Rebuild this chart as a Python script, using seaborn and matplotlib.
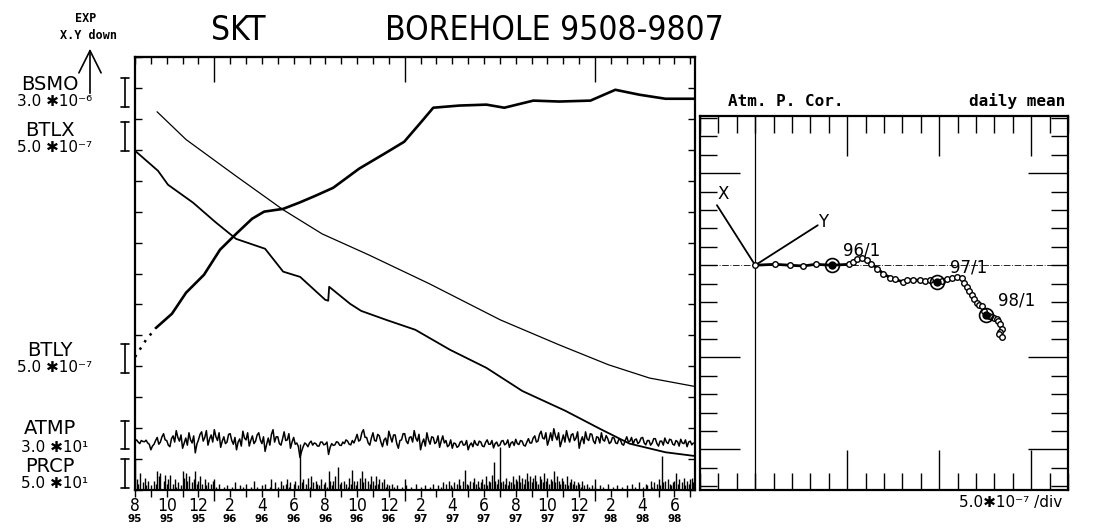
import numpy as np
import pandas as pd
import matplotlib
matplotlib.use("Agg")
import matplotlib.pyplot as plt
from matplotlib.lines import Line2D
from matplotlib.patches import FancyArrowPatch
from matplotlib.ticker import FixedLocator
import seaborn as sns

# ---------------- left panel: x = months since 1995-08-01, y = chart divisions ----------------
BSMO_MONTH = [1.39, 3.22, 6.37, 9.34, 11.80, 14.70, 18.55, 23.03, 26.75, 29.84, 32.43, 35.27]
BSMO_DIV = [12.23, 11.33, 10.15, 9.06, 8.28, 7.61, 6.67, 5.50, 4.69, 4.05, 3.62, 3.35]

BTLX_MONTH = [0.00, 1.45, 2.08, 3.66, 5.05, 6.37, 8.20, 9.34, 10.41, 11.99, 12.18, 12.24,
              13.56, 14.26, 15.84, 17.67, 19.87, 22.15, 24.42, 27.13, 29.34, 31.17, 33.44, 35.27]
BTLX_DIV = [10.97, 10.32, 9.87, 9.29, 8.67, 8.12, 7.80, 7.06, 6.89, 6.15, 6.12, 6.57,
            6.02, 5.79, 5.50, 5.18, 4.53, 3.95, 3.20, 2.56, 1.97, 1.50, 1.22, 1.10]

BTLY_MONTH = [0.00, 0.69, 1.32, 2.33, 3.22, 4.35, 5.36, 6.37, 7.38, 8.14, 9.34, 10.35, 11.36,
              12.49, 14.13, 15.84, 16.97, 18.11, 18.80, 20.44, 22.15, 23.28, 25.11, 26.75,
              28.71, 30.28, 31.80, 33.44, 35.27]
BTLY_DIV = [4.30, 4.85, 5.24, 5.70, 6.38, 6.96, 7.77, 8.28, 8.77, 9.00, 9.09, 9.29, 9.51,
            9.77, 10.39, 10.91, 11.26, 11.94, 12.36, 12.43, 12.46, 12.36, 12.59, 12.56,
            12.59, 12.94, 12.78, 12.65, 12.65]

DAILY_STEP = 0.1  # months between ATMP / PRCP samples
ATMP_DIV = [
    1.58, 1.62, 1.55, 1.50, 1.60, 1.57, 1.56, 1.61, 1.52, 1.48, 1.30, 1.42, 1.48, 1.60,
    1.70, 1.48, 1.55, 1.72, 1.82, 1.62, 1.60, 1.45, 1.40, 1.66,
    1.75, 1.55, 1.92, 1.70, 1.58, 1.78, 1.35, 1.52, 1.68, 1.45,
    1.85, 1.62, 1.52, 1.75, 1.20, 1.48, 1.62, 1.80, 1.88, 1.58,
    1.70, 1.92, 1.45, 1.65, 1.78, 1.55, 1.95, 1.72, 1.60, 1.85,
    1.38, 1.58, 1.72, 1.50, 1.55, 1.80, 1.82, 1.60, 1.48, 1.70,
    1.30, 1.55, 1.65, 1.42, 1.90, 1.68, 1.62, 1.85, 1.42, 1.60,
    1.75, 1.50, 1.58, 1.78, 1.85, 1.62, 1.50, 1.72, 1.25, 1.48,
    1.68, 1.45, 1.80, 1.95, 1.55, 1.72, 1.72, 1.50, 1.45, 1.65,
    1.88, 1.60, 1.62, 1.82, 1.35, 1.55, 1.70, 1.48, 1.52, 1.40,
    1.05, 1.25, 1.40, 1.52, 1.48, 1.40, 1.52, 1.58, 1.45, 1.52, 1.50, 1.42, 1.42, 1.55, 1.55,
    1.46, 1.48, 1.55,
    1.15, 1.38, 1.50, 1.44, 1.46, 1.56, 1.54, 1.45, 1.44, 1.55, 1.50, 1.62, 1.58, 1.48, 1.46,
    1.60, 1.52, 1.65,
    1.80, 1.58, 1.62, 1.85, 1.95, 1.70, 1.70, 1.52, 1.45, 1.68,
    1.85, 1.60, 1.58, 1.80, 1.75, 1.55, 1.40, 1.62, 1.68, 1.45,
    1.90, 1.72, 1.55, 1.78, 1.78, 1.50, 1.35, 1.60, 1.62, 1.82,
    1.82, 1.58, 1.50, 1.70, 1.72, 1.55, 1.92, 1.68, 1.58, 1.80,
    1.30, 1.52, 1.65, 1.42, 1.85, 1.62, 1.48, 1.72, 1.70, 1.50,
    1.55, 1.75, 1.38, 1.58, 1.75, 1.52, 1.60, 1.40, 1.45, 1.62,
    1.35, 1.52, 1.50, 1.38, 1.42, 1.55, 1.58, 1.45, 1.46, 1.60,
    1.30, 1.45, 1.52, 1.40, 1.60, 1.48, 1.44, 1.58, 1.55, 1.42,
    1.40, 1.54, 1.62, 1.48, 1.48, 1.60, 1.36, 1.50, 1.55, 1.42,
    1.45, 1.58, 1.60, 1.46, 1.50, 1.62, 1.38, 1.52, 1.56, 1.44,
    1.64, 1.50, 1.47, 1.60, 1.58, 1.45, 1.42, 1.55, 1.66, 1.52,
    1.52, 1.68,
    1.75, 1.55, 1.58, 1.80, 1.90, 1.68, 1.65, 1.85, 1.45, 1.62,
    1.85, 1.60, 1.98, 1.75, 1.62, 1.85, 1.40, 1.58, 1.78, 1.55,
    1.92, 1.70, 1.55, 1.78, 1.82, 1.60, 1.68, 1.88, 1.35, 1.58,
    1.72, 1.50, 1.88, 1.65, 1.60, 1.82, 1.80, 1.58, 1.50, 1.72,
    1.70, 1.52, 1.85, 1.62, 1.58, 1.76, 1.66, 1.50,
    1.55, 1.70, 1.68, 1.52, 1.50, 1.64, 1.62, 1.48, 1.45, 1.60,
    1.72, 1.55, 1.58, 1.70, 1.48, 1.62, 1.65, 1.50, 1.55, 1.68,
    1.70, 1.52, 1.46, 1.60, 1.60, 1.45, 1.52, 1.66, 1.66, 1.50,
    1.42, 1.58, 1.58, 1.45, 1.68, 1.55, 1.50, 1.64, 1.62, 1.48,
    1.45, 1.60, 1.56, 1.42, 1.64, 1.52, 1.50, 1.62, 1.40, 1.55,
    1.58, 1.46, 1.52]

PRCP_DIV = [
    1.00, 0.35, 0.20, 0.55, 0.00, 0.25, 0.40, 0.15, 0.30, 0.00,
    0.15, 0.00, 0.30, 0.20, 0.60, 0.45, 0.55, 0.00, 0.30, 0.50,
    0.20, 0.35, 0.50, 0.00, 0.20, 0.35, 0.10, 0.25, 0.00, 0.15,
    0.60, 0.40, 0.55, 0.30, 0.45, 0.00, 0.25, 0.35, 0.60, 0.20,
    0.30, 0.45, 0.20, 0.00, 0.35, 0.15, 0.25, 0.00, 0.20, 0.30,
    0.00, 0.10, 0.00, 0.20, 0.00, 0.00, 0.10, 0.00, 0.15, 0.00,
    0.00, 0.10, 0.00, 0.25, 0.00, 0.00, 0.15, 0.00, 0.10, 0.00,
    0.20, 0.00, 0.00, 0.10, 0.00, 0.30, 0.00, 0.10, 0.00, 0.00,
    0.15, 0.00, 0.20, 0.00, 0.00, 0.10, 0.35, 0.00, 0.25, 0.00,
    0.10, 0.00, 0.30, 0.15, 0.00, 0.20, 0.35, 0.10, 0.25, 0.00,
    0.20, 0.30, 0.00, 0.15, 1.50, 0.25, 0.35, 0.00, 0.20, 0.40,
    0.10, 0.45, 0.25, 0.00, 0.30, 0.20, 0.15, 0.35, 0.00, 0.20,
    0.25, 0.10, 0.60, 0.30, 0.15, 0.30, 0.45, 0.00, 0.75, 0.20,
    0.25, 0.00, 0.30, 0.20, 0.10, 0.40, 0.20, 0.65, 0.30, 0.15,
    0.30, 0.00, 0.40, 0.60, 0.25, 0.40, 0.00, 0.30, 0.20, 0.45,
    0.30, 0.15, 0.45, 0.20, 0.35, 0.00, 0.25, 0.35, 0.10, 0.20,
    0.15, 0.00, 0.20, 0.10, 0.00, 0.15, 0.00, 0.00, 0.10, 0.00,
    0.00, 0.15, 0.00, 0.00, 0.10, 0.00, 0.00, 0.20, 0.00, 0.00,
    0.10, 0.00, 0.00, 0.15, 0.00, 0.00, 0.10, 0.00, 0.20, 0.00,
    0.00, 0.15, 0.00, 0.10, 0.25, 0.00, 0.20, 0.00, 0.30, 0.15,
    0.10, 0.25, 0.00, 0.20, 0.35, 0.15, 0.00, 0.30, 0.65, 0.20,
    0.15, 0.30, 0.00, 0.25, 0.40, 0.20, 0.30, 0.10, 0.25, 0.35,
    0.20, 0.45, 0.15, 0.30, 0.25, 0.50, 0.90, 0.30, 0.20, 0.35,
    1.40, 0.25, 0.30, 0.20, 0.40, 0.15, 0.30, 0.25, 0.45, 0.20,
    0.35, 0.30, 0.50, 0.25, 0.40, 0.20, 0.35, 0.55, 0.30, 0.45,
    0.25, 0.40, 0.50, 0.30, 0.20, 0.45, 0.35, 0.25, 0.55, 0.30,
    0.40, 0.20, 0.35, 0.30, 0.60, 0.25, 0.45, 0.30, 0.20, 0.40,
    0.30, 0.20, 0.45, 0.15, 0.25, 0.35, 0.20, 0.30, 0.15, 0.25,
    0.20, 0.10, 0.30, 0.15, 0.00, 0.20, 0.10, 0.00, 0.15, 0.00,
    0.10, 0.00, 0.00, 0.15, 0.00, 0.10, 0.00, 0.00, 0.20, 0.00,
    0.00, 0.10, 0.00, 0.00, 0.15, 0.00, 0.00, 0.10, 0.00, 0.00,
    0.15, 0.00, 0.00, 0.20, 0.00, 0.10, 0.00, 0.00, 0.25, 0.00,
    0.10, 0.00, 0.20, 0.15, 0.00, 0.30, 0.10, 0.25, 0.00, 0.20,
    0.35, 0.15, 1.10, 0.25, 0.30, 0.00, 0.35, 0.20, 0.15, 0.25,
    0.30, 0.55, 0.20, 0.35, 0.00, 0.25, 0.40, 0.15, 0.30, 0.20,
    0.35, 0.40, 0.25]

TICK_MONTHS = list(range(0, 36, 2))
MONTH_LABELS = ["8", "10", "12", "2", "4", "6", "8", "10", "12",
                "2", "4", "6", "8", "10", "12", "2", "4", "6"]
YEAR_LABELS = ["95", "95", "95", "96", "96", "96", "96", "96", "96",
               "97", "97", "97", "97", "97", "97", "98", "98", "98"]
JANUARY_MONTHS = [5, 17, 29]

SERIES_NAMES = ["BSMO", "BTLX", "BTLY", "ATMP", "PRCP"]
SERIES_SCALES = ["3.0 ✱10⁻⁶", "5.0 ✱10⁻⁷", "5.0 ✱10⁻⁷", "3.0 ✱10¹", "5.0 ✱10¹"]

# ---------------- right panel: tilt vector, divisions of 5.0e-7 ----------------
TRACK_X = [0.00, 1.07, 1.88, 2.61, 3.30, 4.15, 5.11, 5.30, 5.51, 5.80, 6.05, 6.32, 6.63, 6.96,
           7.32, 7.59, 8.04, 8.23, 8.60, 8.95, 9.25, 9.49, 9.86, 10.15, 10.40, 10.70, 10.95,
           11.22, 11.35, 11.49, 11.62, 11.76, 11.90, 12.03, 12.15, 12.30, 12.45, 12.54, 12.70,
           12.85, 13.00, 13.12, 13.22, 13.30, 13.39, 13.32, 13.26, 13.39]
TRACK_Y = [0.00, 0.05, 0.00, -0.04, 0.05, 0.00, 0.05, 0.15, 0.36, 0.40, 0.31, 0.09, -0.18, -0.45,
           -0.67, -0.76, -0.91, -0.78, -0.80, -0.82, -0.85, -0.82, -0.91, -0.85, -0.76, -0.70,
           -0.63, -0.72, -0.95, -1.18, -1.40, -1.63, -1.85, -2.05, -2.15, -2.23, -2.50, -2.72,
           -2.78, -2.81, -2.85, -2.90, -3.05, -3.17, -3.44, -3.60, -3.71, -3.90]
BIG_MARKS = [5, 22, 37]
YEAR_TAGS = ["96/1", "97/1", "98/1"]
YEAR_TAG_X = [5.80, 11.60, 14.22]
YEAR_TAG_Y = [0.82, -0.11, -1.90]
AXIS_TIP_X = [-2.08, 3.40]
AXIS_TIP_Y = [3.26, 2.17]

sns.set_theme(style="ticks", rc={"axes.edgecolor": "black", "xtick.color": "black",
                                 "ytick.color": "black", "axes.linewidth": 1.5,
                                 "text.color": "black"})
plt.rcParams["font.family"] = ["DejaVu Sans", "Noto Sans", "DejaVu Sans Mono"]

W, H = 1094, 528
fig = plt.figure(figsize=(W / 100, H / 100), dpi=100)


def px_box(x0, y0, x1, y1):
    return [x0 / W, 1 - y1 / H, (x1 - x0) / W, (y1 - y0) / H]


def ftext(x, y, s, **kw):
    fig.text(x / W, 1 - y / H, s, **kw)


def fline(xs, ys, **kw):
    fig.add_artist(Line2D([x / W for x in xs], [1 - y / H for y in ys],
                          transform=fig.transFigure, color="black", **kw))


# ================= left panel =================
ax = fig.add_axes(px_box(135, 57, 695, 490))
ax.set_xlim(0, 35.3)
ax.set_ylim(0, 14)

sns.lineplot(x=BSMO_MONTH, y=BSMO_DIV, ax=ax, color="black", lw=0.9, sort=False, estimator=None)
sns.lineplot(x=BTLX_MONTH, y=BTLX_DIV, ax=ax, color="black", lw=1.3, sort=False, estimator=None)
sns.lineplot(x=BTLY_MONTH[:3], y=BTLY_DIV[:3], ax=ax, color="black", lw=1.8,
             linestyle=(0, (1, 2.5)), sort=False, estimator=None)
sns.lineplot(x=BTLY_MONTH[2:], y=BTLY_DIV[2:], ax=ax, color="black", lw=1.9,
             sort=False, estimator=None)
atmp_month = np.arange(len(ATMP_DIV)) * DAILY_STEP
sns.lineplot(x=atmp_month, y=ATMP_DIV, ax=ax, color="black", lw=1.1, sort=False, estimator=None)
prcp_month = np.arange(len(PRCP_DIV)) * DAILY_STEP
ax.vlines(prcp_month, 0, PRCP_DIV, color="black", lw=1.0)

ax.set_yticks(range(15))
ax.tick_params(axis="y", direction="in", length=5, width=1, left=True, right=True,
               labelleft=False)
ax.set_xticks(JANUARY_MONTHS)
ax.xaxis.set_minor_locator(FixedLocator(range(0, 36)))
ax.tick_params(axis="x", which="major", direction="inout", length=16, width=1,
               bottom=True, top=False, labelbottom=False)
ax.tick_params(axis="x", which="minor", direction="out", length=5, width=1,
               bottom=True, top=False)
ax.set_xlabel("")
ax.set_ylabel("")
for s in ax.spines.values():
    s.set_linewidth(1.6)

top = ax.secondary_xaxis("top")
top.set_xticks(JANUARY_MONTHS)
top.xaxis.set_minor_locator(FixedLocator(range(0, 36)))
top.tick_params(which="major", direction="in", length=18, width=1, labeltop=False)
top.tick_params(which="minor", direction="in", length=5, width=1)

trans = ax.get_xaxis_transform()
for m, mo, yr in zip(TICK_MONTHS, MONTH_LABELS, YEAR_LABELS):
    ax.text(m, -16 / 433, mo, transform=trans, ha="center", va="center",
            fontsize=12.5, fontstretch="condensed")
    ax.text(m, -29 / 433, yr, transform=trans, ha="center", va="center",
            fontsize=7.5, fontweight="bold")

# series names and per-division scale bars
label_rows = [(85, 102, 78, 107), (131, 148, 122, 151), (351, 368, 344, 373),
              (429, 447, 421, 449), (467, 484, 459, 488)]
for name, scale, (yn, ys, b0, b1) in zip(SERIES_NAMES, SERIES_SCALES, label_rows):
    ftext(50, yn, name, ha="center", va="center", fontsize=14)
    ftext(55, ys, scale, ha="center", va="center", fontsize=11)
    fline([125, 125], [b0, b1], lw=1.2)
    fline([121, 129], [b0, b0], lw=1.2)
    fline([121, 129], [b1, b1], lw=1.2)

ftext(86, 19, "EXP", ha="center", va="center", fontsize=8.5, fontweight="bold",
      family="DejaVu Sans Mono")
ftext(88, 36, "X.Y down", ha="center", va="center", fontsize=8.5, fontweight="bold",
      family="DejaVu Sans Mono")
fig.add_artist(FancyArrowPatch((90 / W, 1 - 96 / H), (90 / W, 1 - 46 / H),
                               transform=fig.transFigure,
                               arrowstyle="->,head_length=0.8,head_width=0.4",
                               mutation_scale=20, lw=1.2, color="black"))

ftext(238, 31, "SKT", ha="center", va="center", fontsize=24, fontstretch="condensed")
ftext(554, 31, "BOREHOLE 9508-9807", ha="center", va="center", fontsize=24,
      fontstretch="condensed")

# ================= right panel =================
axr = fig.add_axes(px_box(700, 116, 1068, 490))
axr.set_xlim(-3, 17)
axr.set_ylim(-12.2, 8.1)
axr.axvline(0, color="black", lw=0.9)
axr.axhline(0, color="black", lw=0.6, ls=(0, (8, 2, 1, 2)))
for tx, ty in zip(AXIS_TIP_X, AXIS_TIP_Y):
    axr.plot([0, tx], [0, ty], color="black", lw=1.3)
axr.text(AXIS_TIP_X[0] + 0.35, AXIS_TIP_Y[0] + 0.6, "X", fontsize=12, ha="center", va="center")
axr.text(AXIS_TIP_X[1] + 0.3, AXIS_TIP_Y[1] + 0.2, "Y", fontsize=12, ha="center", va="center")

sns.lineplot(x=TRACK_X, y=TRACK_Y, ax=axr, color="black", lw=2.0, sort=False, estimator=None,
             marker="o", markersize=4, markerfacecolor="white", markeredgecolor="black",
             markeredgewidth=1.0)
bx = [TRACK_X[i] for i in BIG_MARKS]
by = [TRACK_Y[i] for i in BIG_MARKS]
axr.plot(bx, by, "o", ms=10, mfc="none", mec="black", mew=1.2)
axr.plot(bx, by, "o", ms=5, mfc="black", mec="black")
for tag, tx, ty in zip(YEAR_TAGS, YEAR_TAG_X, YEAR_TAG_Y):
    axr.text(tx, ty, tag, fontsize=12, ha="center", va="center")

axr.set_xticks([5, 10, 15])
axr.set_yticks([5, -5, -10])
axr.xaxis.set_minor_locator(FixedLocator([v for v in range(-3, 18) if v % 5 != 0 or v == 0]))
axr.yaxis.set_minor_locator(FixedLocator([v for v in range(-12, 9) if v % 5 != 0 or v == 0]))
axr.tick_params(which="major", direction="in", length=29, width=1, top=True, bottom=True,
                left=True, right=True, labelbottom=False, labelleft=False)
axr.tick_params(which="minor", direction="in", length=12, width=1, top=True, bottom=True,
                left=True, right=True)
for s in axr.spines.values():
    s.set_linewidth(1.6)
axr.set_xlabel("")
axr.set_ylabel("")

ftext(728, 101, "Atm. P. Cor.", ha="left", va="center", fontsize=11.5, fontweight="bold",
      family="DejaVu Sans Mono")
ftext(1065, 101, "daily mean", ha="right", va="center", fontsize=11.5, fontweight="bold",
      family="DejaVu Sans Mono")
ftext(1062, 502, "5.0✱10⁻⁷ /div", ha="right", va="center", fontsize=11)

fig.savefig("out.png", dpi=100)
